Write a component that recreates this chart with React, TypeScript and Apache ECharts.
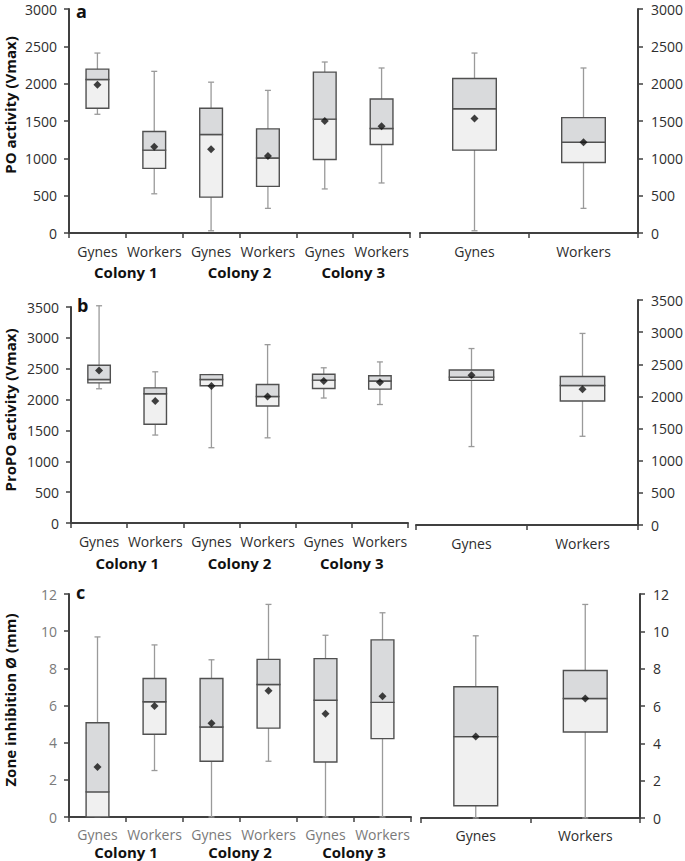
import React, { useEffect, useRef } from "react";
import * as echarts from "echarts";

// ---------- categories ----------
const leftCats = ["Gynes", "Workers", "Gynes", "Workers", "Gynes", "Workers"];
const colonies = ["Colony 1", "Colony 2", "Colony 3"];
const rightCats = ["Gynes", "Workers"];

// ---------- panel a: PO activity (Vmax) ----------
const poLow = [1590, 525, 30, 330, 590, 670];
const poQ1 = [1670, 865, 480, 625, 985, 1185];
const poMed = [2055, 1110, 1320, 1005, 1525, 1400];
const poQ3 = [2195, 1360, 1670, 1395, 2155, 1795];
const poHigh = [2410, 2165, 2020, 1910, 2290, 2210];
const poMean = [1985, 1155, 1120, 1030, 1500, 1430];
const poAllLow = [30, 330];
const poAllQ1 = [1110, 945];
const poAllMed = [1665, 1215];
const poAllQ3 = [2070, 1545];
const poAllHigh = [2410, 2210];
const poAllMean = [1535, 1215];

// ---------- panel b: ProPO activity (Vmax) ----------
const proLow = [2175, 1425, 1220, 1380, 2025, 1920];
const proQ1 = [2270, 1600, 2225, 1895, 2180, 2170];
const proMed = [2325, 2095, 2325, 2050, 2315, 2300];
const proQ3 = [2555, 2190, 2405, 2245, 2410, 2385];
const proHigh = [3520, 2450, 2405, 2890, 2515, 2610];
const proMean = [2470, 1975, 2220, 2050, 2300, 2280];
const proAllLow = [1220, 1380];
const proAllQ1 = [2250, 1930];
const proAllMed = [2300, 2170];
const proAllQ3 = [2410, 2310];
const proAllHigh = [2745, 2980];
const proAllMean = [2330, 2110];

// ---------- panel c: Zone inhibition Ø (mm) ----------
const zoneLow = [0, 2.5, 0, 3.0, 0, 0];
const zoneQ1 = [0, 4.45, 3.0, 4.78, 2.96, 4.22];
const zoneMed = [1.35, 6.2, 4.84, 7.13, 6.28, 6.17];
const zoneQ3 = [5.07, 7.45, 7.45, 8.48, 8.52, 9.53];
const zoneHigh = [9.69, 9.26, 8.46, 11.44, 9.78, 10.99];
const zoneMean = [2.69, 5.97, 5.05, 6.8, 5.56, 6.5];
const zoneAllLow = [0, 0];
const zoneAllQ1 = [0.66, 4.61];
const zoneAllMed = [4.36, 6.4];
const zoneAllQ3 = [7.03, 7.9];
const zoneAllHigh = [9.76, 11.44];
const zoneAllMean = [4.36, 6.4];

const AXIS = "#404040";
const DARK = "#2e2e2e";
const GRAY = "#7a7a7a";
const FONT = "Open Sans";

function rows(lo: number[], q1: number[], md: number[], q3: number[], hi: number[]) {
  return lo.map((v, i) => [i, v, q1[i], md[i], q3[i], hi[i]]);
}

function renderBox(params: any, api: any) {
  const x = api.value(0);
  const low = api.coord([x, api.value(1)]);
  const q1 = api.coord([x, api.value(2)]);
  const med = api.coord([x, api.value(3)]);
  const q3 = api.coord([x, api.value(4)]);
  const high = api.coord([x, api.value(5)]);
  const bw = api.size([1, 0])[0] * 0.4;
  const cx = low[0];
  const l = cx - bw / 2;
  const wStyle = { stroke: "#9a9a9a", lineWidth: 1.3 };
  const bStyle = { stroke: "#505050", lineWidth: 1.4 };
  return {
    type: "group",
    children: [
      { type: "line", shape: { x1: cx, y1: low[1], x2: cx, y2: high[1] }, style: wStyle },
      { type: "line", shape: { x1: cx - 3, y1: high[1], x2: cx + 3, y2: high[1] }, style: wStyle },
      { type: "line", shape: { x1: cx - 3, y1: low[1], x2: cx + 3, y2: low[1] }, style: wStyle },
      { type: "rect", shape: { x: l, y: med[1], width: bw, height: q1[1] - med[1] }, style: { fill: "#f0f0f0", ...bStyle } },
      { type: "rect", shape: { x: l, y: q3[1], width: bw, height: med[1] - q3[1] }, style: { fill: "#d9dadc", ...bStyle } },
    ],
  };
}

function catAxis(gridIndex: number, data: string[], color: string, margin: number) {
  return {
    type: "category",
    gridIndex,
    data,
    position: "bottom",
    boundaryGap: true,
    axisLine: { show: true, onZero: false, lineStyle: { color: AXIS, width: 2 } },
    axisTick: { show: true, interval: 0, length: 5, lineStyle: { color: AXIS, width: 1.5 } },
    axisLabel: { interval: 0, color, fontSize: 14, fontFamily: FONT, margin },
    splitLine: { show: false },
  };
}

function colonyAxis(gridIndex: number, offset: number) {
  return {
    type: "category",
    gridIndex,
    data: colonies,
    position: "bottom",
    offset,
    boundaryGap: true,
    axisLine: { show: false },
    axisTick: { show: false },
    axisLabel: { interval: 0, color: "#111", fontSize: 15, fontWeight: "bold", fontFamily: FONT, margin: 0 },
    splitLine: { show: false },
  };
}

function valAxis(gridIndex: number, position: string, max: number, interval: number, color: string) {
  return {
    type: "value",
    gridIndex,
    position,
    min: 0,
    max,
    interval,
    axisLine: { show: true, lineStyle: { color: AXIS, width: 2 } },
    axisTick: { show: true, length: 5, lineStyle: { color: AXIS, width: 1.5 } },
    axisLabel: {
      color,
      fontSize: 14,
      fontFamily: FONT,
      margin: position === "left" ? 12 : 13,
      formatter: (v: number) => String(v),
    },
    splitLine: { show: false },
  };
}

function boxSeries(xi: number, yi: number, data: number[][]) {
  return {
    type: "custom",
    xAxisIndex: xi,
    yAxisIndex: yi,
    renderItem: renderBox,
    encode: { x: 0, y: [1, 2, 3, 4, 5] },
    data,
    z: 2,
    clip: false,
  };
}

function meanSeries(xi: number, yi: number, data: number[]) {
  return {
    type: "scatter",
    xAxisIndex: xi,
    yAxisIndex: yi,
    data,
    symbol: "diamond",
    symbolSize: 8,
    itemStyle: { color: "#111" },
    z: 5,
  };
}

export default function App() {
  const ref = useRef<HTMLDivElement>(null);
  useEffect(() => {
    if (!ref.current) return;
    const chart = echarts.init(ref.current, null, { renderer: "svg" });
    const grids = [
      { left: 69, top: 9, width: 341, height: 224 },
      { left: 420, top: 9, width: 218, height: 224 },
      { left: 71, top: 307, width: 337, height: 216 },
      { left: 416, top: 300, width: 222, height: 225 },
      { left: 69, top: 594, width: 342, height: 223 },
      { left: 421, top: 594, width: 219, height: 224 },
    ].map((g) => ({ ...g, containLabel: false, outerBoundsMode: "none" }));

    const option: any = {
      animation: false,
      backgroundColor: "#ffffff",
      textStyle: { fontFamily: FONT },
      grid: grids,
      xAxis: [
        catAxis(0, leftCats, DARK, 11),
        colonyAxis(0, 31),
        catAxis(1, rightCats, DARK, 11),
        catAxis(2, leftCats, DARK, 11),
        colonyAxis(2, 32),
        catAxis(3, rightCats, DARK, 11),
        catAxis(4, leftCats, GRAY, 10),
        colonyAxis(4, 27),
        catAxis(5, rightCats, DARK, 10),
      ],
      yAxis: [
        valAxis(0, "left", 3000, 500, DARK),
        valAxis(1, "right", 3000, 500, DARK),
        valAxis(2, "left", 3500, 500, DARK),
        valAxis(3, "right", 3500, 500, DARK),
        valAxis(4, "left", 12, 2, GRAY),
        valAxis(5, "right", 12, 2, DARK),
      ],
      series: [
        boxSeries(0, 0, rows(poLow, poQ1, poMed, poQ3, poHigh)),
        meanSeries(0, 0, poMean),
        boxSeries(2, 1, rows(poAllLow, poAllQ1, poAllMed, poAllQ3, poAllHigh)),
        meanSeries(2, 1, poAllMean),
        boxSeries(3, 2, rows(proLow, proQ1, proMed, proQ3, proHigh)),
        meanSeries(3, 2, proMean),
        boxSeries(5, 3, rows(proAllLow, proAllQ1, proAllMed, proAllQ3, proAllHigh)),
        meanSeries(5, 3, proAllMean),
        boxSeries(6, 4, rows(zoneLow, zoneQ1, zoneMed, zoneQ3, zoneHigh)),
        meanSeries(6, 4, zoneMean),
        boxSeries(8, 5, rows(zoneAllLow, zoneAllQ1, zoneAllMed, zoneAllQ3, zoneAllHigh)),
        meanSeries(8, 5, zoneAllMean),
      ],
      graphic: [
        { type: "text", left: 76, top: 2, style: { text: "a", font: `bold 18px "${FONT}"`, fill: "#111" } },
        { type: "text", left: 77, top: 296, style: { text: "b", font: `bold 18px "${FONT}"`, fill: "#111" } },
        { type: "text", left: 76, top: 583, style: { text: "c", font: `bold 18px "${FONT}"`, fill: "#111" } },
        {
          type: "text", x: 10, y: 105, rotation: Math.PI / 2,
          style: { text: "PO activity (Vmax)", font: `bold 15px "${FONT}"`, fill: "#111", align: "center", verticalAlign: "middle" },
        },
        {
          type: "text", x: 10, y: 410, rotation: Math.PI / 2,
          style: { text: "ProPO activity (Vmax)", font: `bold 15px "${FONT}"`, fill: "#111", align: "center", verticalAlign: "middle" },
        },
        {
          type: "text", x: 10, y: 700, rotation: Math.PI / 2,
          style: { text: "Zone inhibition Ø (mm)", font: `bold 15px "${FONT}"`, fill: "#111", align: "center", verticalAlign: "middle" },
        },
      ],
    };
    chart.setOption(option);
    return () => chart.dispose();
  }, []);
  return (
    <div
      ref={ref}
      style={{ position: "fixed", left: 0, top: 0, width: 685, height: 861, background: "#fff" }}
    />
  );
}
